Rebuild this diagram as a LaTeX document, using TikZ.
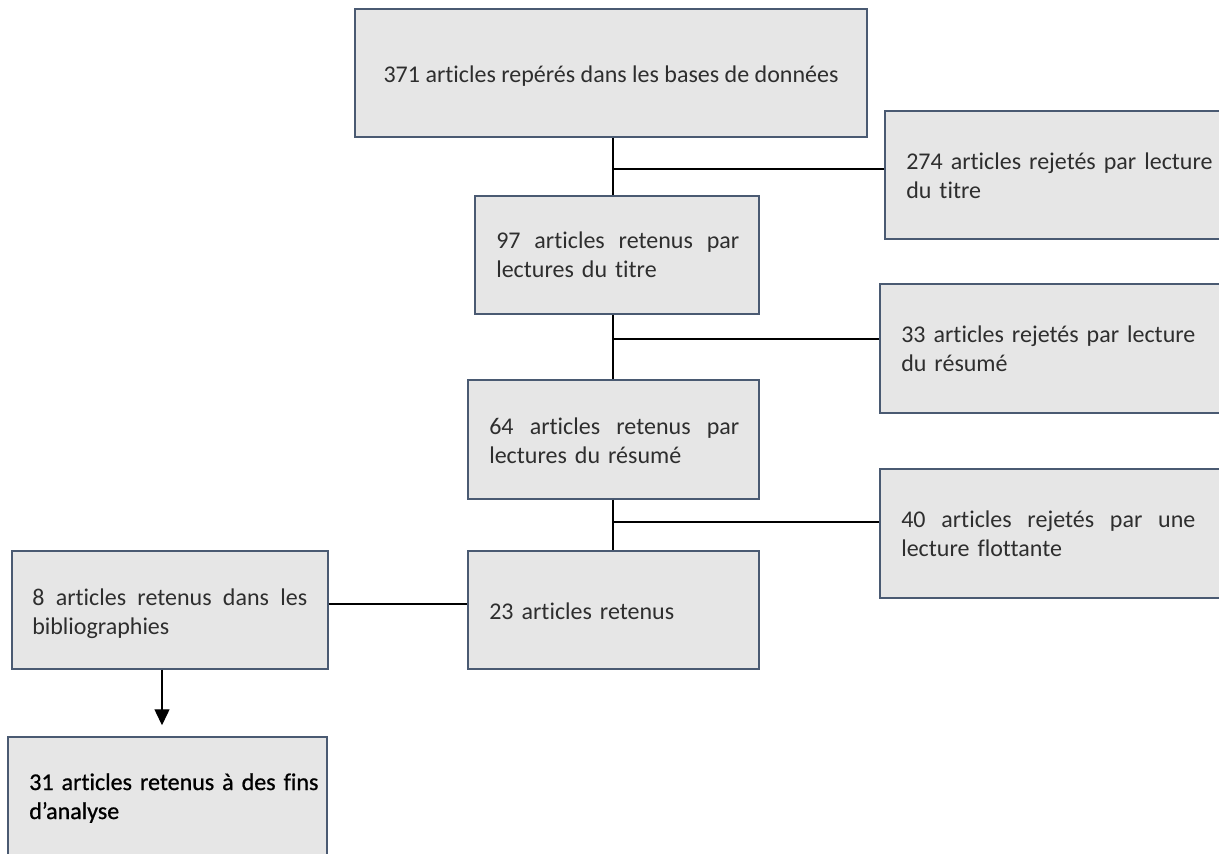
\documentclass[tikz,border=0pt]{standalone}
\usepackage{fontspec}
\setmainfont[Ligatures={TeX,NoCommon}]{Carlito}
\usetikzlibrary{arrows.meta}
\definecolor{boxfill}{HTML}{E6E6E6}
\definecolor{boxline}{HTML}{4A5A72}
\newcommand{\jline}[2]{\makebox[#1][l]{#2}}
\begin{document}
\begin{tikzpicture}[x=0.75pt,y=-0.75pt,
  font=\fontsize{18}{21.75}\selectfont,
  box/.style 2 args={draw=boxline, fill=boxfill, line width=1.1pt, inner sep=0pt,
    minimum width={#1*0.75pt}, minimum height={#2*0.75pt}},
  txt/.style={anchor=base west, inner sep=0pt, align=left, text=black!82,
    text width={#1*0.75pt}},
  conn/.style={line width=2.2pt, black},
  arr/.style={line width=1pt, black, -{Triangle[width=11.25pt,length=12pt]}}]
\useasboundingbox (0,0) rectangle (1219,853);
\clip (0,0) rectangle (1219,853);
% boxes
\node[box={512}{128}] (b1) at (611,73) {};
\node[box={350}{128}] (r1) at (1060,175) {};
\node[box={284}{118}] (b2) at (617,255) {};
\node[box={355}{129}] (r2) at (1057.5,348.5) {};
\node[box={291}{119}] (b3) at (613.5,439.5) {};
\node[box={355}{129}] (r3) at (1057.5,533.5) {};
\node[box={291}{118}] (b4) at (613.5,610) {};
\node[box={316}{118}] (b8) at (170,610) {};
\node[box={319}{133}] (b31) at (167.5,803.5) {};
% texts
\node[anchor=base, inner sep=0pt, text=black!82] (t1) at (611,82) {371 articles repérés dans les bases de données};
\node[txt=303] (tr1) at (906,169) {\jline{227.25pt}{274 \hfill articles \hfill rejetés \hfill par \hfill lecture}\\du titre};
\node[txt=243] (t2) at (496,248) {\jline{182.25pt}{97 \hfill articles \hfill retenus \hfill par}\\lectures du titre};
\node[txt=294] (tr2) at (901,342) {\jline{220.5pt}{33 \hfill articles \hfill rejetés \hfill par \hfill lecture}\\du résumé};
\node[txt=250] (t3) at (489,434) {\jline{187.5pt}{64 \hfill articles \hfill retenus \hfill par}\\lectures du résumé};
\node[txt=294] (tr3) at (901,527) {\jline{220.5pt}{40 \hfill articles \hfill rejetés \hfill par \hfill une}\\lecture flottante};
\node[txt=250] (t4) at (489,619) {23 articles retenus};
\node[txt=275] (t8) at (32,605) {\jline{206.25pt}{8 \hfill articles \hfill retenus \hfill dans \hfill les}\\bibliographies};
\node[txt=277, text=black, font=\fontsize{18}{21.75}\selectfont\addfontfeature{FakeBold=0.8}] (t31) at (29,790) {\jline{207.75pt}{31 \hfill articles \hfill retenus \hfill à \hfill des \hfill fins}\\d’analyse};
% connectors
\coordinate (sx) at (613,0);
\coordinate (j1) at (613,169);
\coordinate (j2) at (613,339);
\coordinate (j3) at (613,522);
\coordinate (j4) at (400,604);
\coordinate (ax) at (162,0);
\draw[conn] (b1.south -| sx) -- (b2.north -| sx);
\draw[conn] (b2.south -| sx) -- (b3.north -| sx);
\draw[conn] (b3.south -| sx) -- (b4.north -| sx);
\draw[conn] (j1) -- (j1 -| r1.west);
\draw[conn] (j2) -- (j2 -| r2.west);
\draw[conn] (j3) -- (j3 -| r3.west);
\draw[conn] (j4 -| b8.east) -- (j4 -| b4.west);
\draw[arr, shorten >=8.25pt] (b8.south -| ax) -- (b31.north -| ax);
\end{tikzpicture}
\end{document}
